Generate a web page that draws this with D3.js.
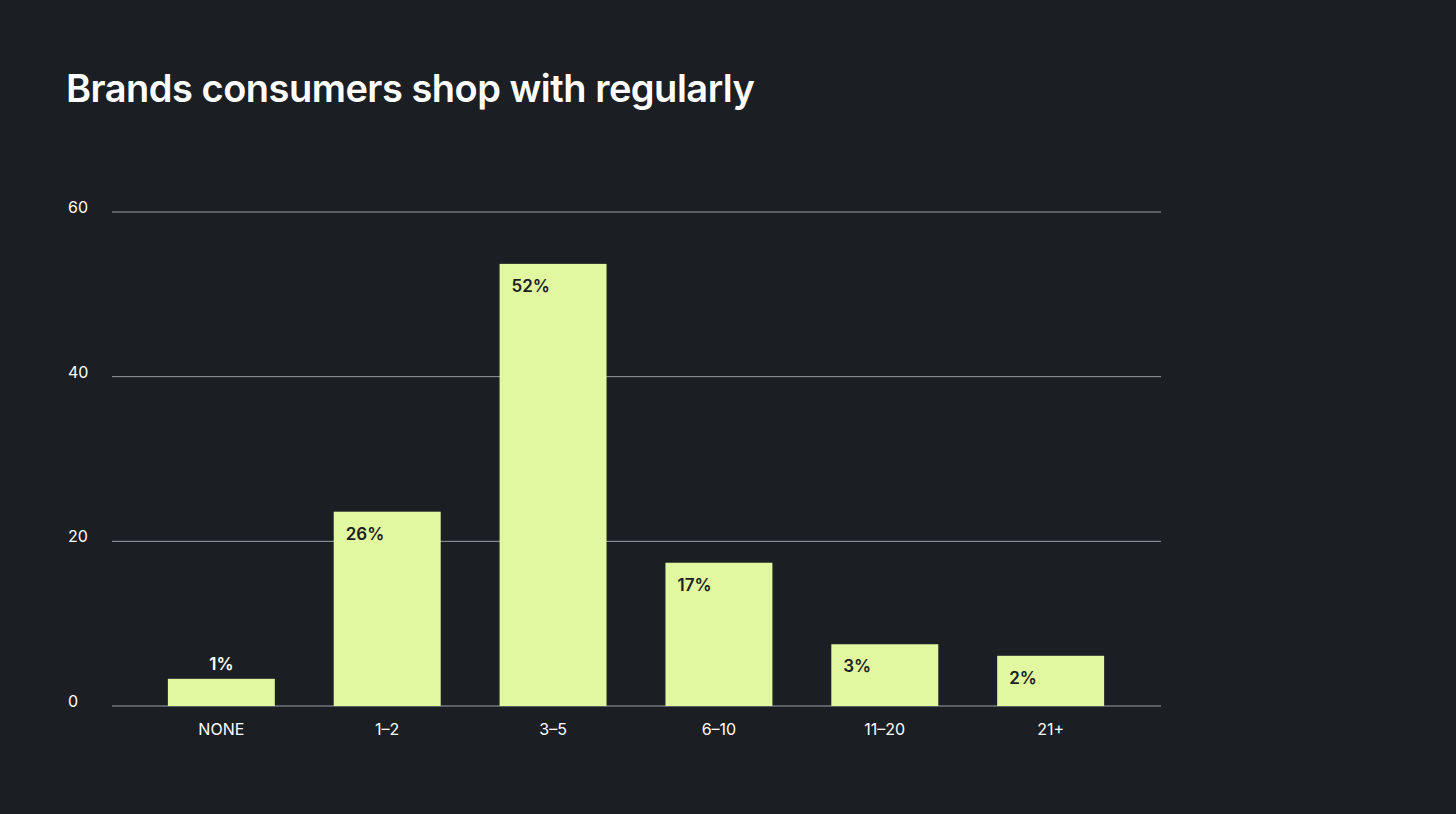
<!DOCTYPE html>
<html><head><meta charset="utf-8">
<script src="https://cdn.jsdelivr.net/npm/d3@7"></script>
<style>body{margin:0;background:#1b1e23;}svg{display:block;}</style>
</head><body>
<svg id="c" width="1456" height="814"></svg>
<script>
const categories = ["NONE","1–2","3–5","6–10","11–20","21+"];
const values = [3.3, 23.6, 53.7, 17.4, 7.5, 6.1];
const labels = ["1%","26%","52%","17%","3%","2%"];
const yTicks = [0,20,40,60];

const svg = d3.select("#c");
svg.append("rect").attr("width",1456).attr("height",814).attr("fill","#1b1e23");
svg.append("text").attr("x",66).attr("y",102).attr("fill","#fff")
  .attr("font-family","Inter, 'Open Sans', sans-serif").attr("font-weight",600)
  .attr("font-size",38).attr("letter-spacing","-0.5").text("Brands consumers shop with regularly");

const x = d3.scaleBand().domain(categories).range([138,1134]).paddingInner(0.355).paddingOuter(0.18);
const y = d3.scaleLinear().domain([0,60]).range([706,212]);

const g = svg.append("g");
yTicks.forEach(t=>{
  g.append("line").attr("x1",112).attr("x2",1161).attr("y1",y(t)).attr("y2",y(t))
    .attr("stroke","#9aa0a8").attr("stroke-width",1);
  g.append("text").attr("x",68).attr("y",y(t)+1).attr("fill","#fff")
    .attr("font-family","Inter, sans-serif").attr("font-size",16).text(t);
});
const font = "Inter, sans-serif";
categories.forEach((c,i)=>{
  const x0 = x(c), w = x.bandwidth(), top = y(values[i]);
  g.append("rect").attr("x",x0).attr("y",top).attr("width",w).attr("height",y(0)-top).attr("fill","#e1f7a0");
  g.append("text").attr("x",x0+w/2).attr("y",735).attr("text-anchor","middle").attr("fill","#fff")
    .attr("font-family",font).attr("font-size",16).text(c);
  const h = y(0)-top;
  if (h < 40) {
    g.append("text").attr("x",x0+w/2).attr("y",top-9).attr("text-anchor","middle").attr("fill","#fff")
      .attr("font-family",font).attr("font-weight",600).attr("font-size",17).text(labels[i]);
  } else {
    g.append("text").attr("x",x0+12).attr("y",top+28).attr("fill","#1b1e23")
      .attr("font-family",font).attr("font-weight",600).attr("font-size",17).text(labels[i]);
  }
});
</script>
</body></html>
